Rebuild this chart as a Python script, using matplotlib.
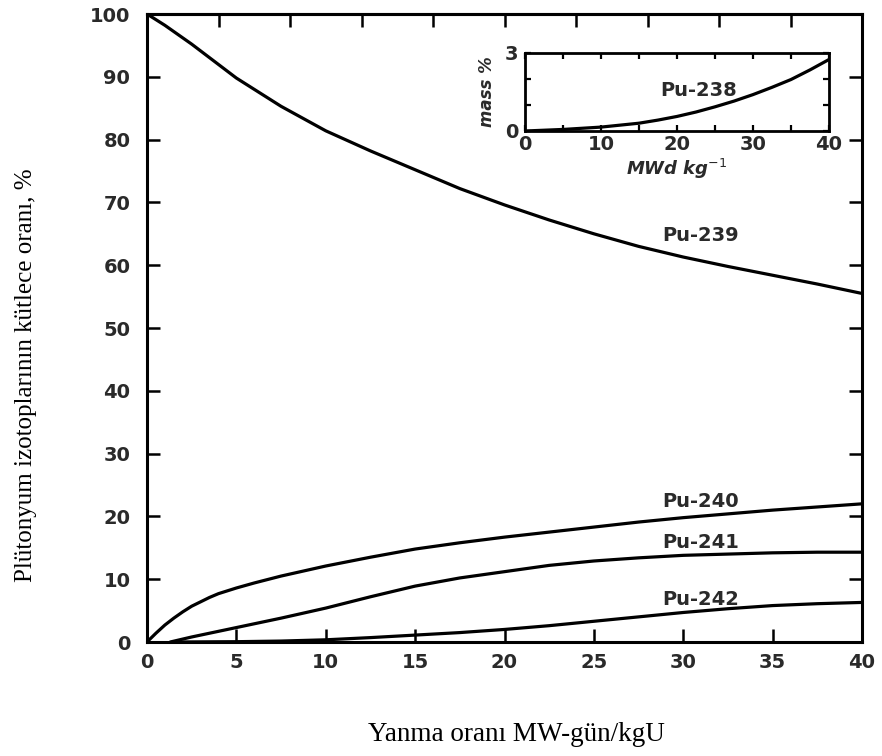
import numpy as np
import matplotlib
matplotlib.use("Agg")
import matplotlib.pyplot as plt

# ---- data ----
x239 = [0, 1, 2.5, 5, 7.5, 10, 12.5, 15, 17.5, 20, 22.5, 25, 27.5, 30, 32.5, 35, 37.5, 40]
pu239 = [100, 98.2, 95.2, 89.8, 85.3, 81.4, 78.2, 75.2, 72.2, 69.6, 67.2, 65.0, 63.0,
         61.3, 59.8, 58.4, 57.0, 55.5]

x240 = [0, 0.5, 1, 1.5, 2, 2.5, 3, 3.5, 4, 5, 6, 7.5, 10, 12.5, 15, 17.5, 20, 22.5, 25,
        27.5, 30, 32.5, 35, 37.5, 40]
pu240 = [0, 1.4, 2.7, 3.8, 4.8, 5.7, 6.4, 7.1, 7.7, 8.6, 9.4, 10.5, 12.1, 13.5, 14.8,
         15.8, 16.7, 17.5, 18.3, 19.1, 19.8, 20.4, 21.0, 21.5, 22.0]

x241 = [1.3, 2.5, 5, 7.5, 10, 12.5, 15, 17.5, 20, 22.5, 25, 27.5, 30, 32.5, 35, 37.5, 40]
pu241 = [0, 0.8, 2.3, 3.8, 5.4, 7.2, 8.9, 10.2, 11.2, 12.2, 12.9, 13.4, 13.8, 14.0,
         14.2, 14.3, 14.3]

x242 = [1.5, 5, 7.5, 10, 12.5, 15, 17.5, 20, 22.5, 25, 27.5, 30, 32.5, 35, 37.5, 40]
pu242 = [0, 0.05, 0.15, 0.35, 0.7, 1.1, 1.5, 2.0, 2.6, 3.3, 4.0, 4.7, 5.3, 5.8, 6.1, 6.3]

x238 = [0, 5, 10, 15, 17.5, 20, 22.5, 25, 27.5, 30, 32.5, 35, 37.5, 40]
pu238 = [0, 0.06, 0.15, 0.3, 0.42, 0.56, 0.73, 0.93, 1.15, 1.4, 1.68, 1.98, 2.35, 2.75]

xticks = [0, 5, 10, 15, 20, 25, 30, 35, 40]
yticks = [0, 10, 20, 30, 40, 50, 60, 70, 80, 90, 100]
inset_xticks = [0, 10, 20, 30, 40]
inset_yticks = [0, 3]

labels = [("Pu-239", 28.8, 64.8), ("Pu-240", 28.8, 22.3),
          ("Pu-241", 28.8, 15.8), ("Pu-242", 28.8, 6.7)]

TXT = "#2a2a2a"
W, H = 882, 756
fig = plt.figure(figsize=(W / 100, H / 100), dpi=100)

ax = fig.add_axes([147 / W, (H - 642) / H, (862 - 147) / W, (642 - 14) / H])
for xs, ys in [(x239, pu239), (x240, pu240), (x241, pu241), (x242, pu242)]:
    ax.plot(xs, ys, color="black", lw=2.3, solid_capstyle="round",
            solid_joinstyle="round")
ax.set_xlim(0, 40)
ax.set_ylim(0, 100)
ax.set_xticks(xticks)
ax.set_yticks(yticks)
ax.set_xticklabels([str(v) for v in xticks])
ax.set_yticklabels([str(v) for v in yticks])
ax.tick_params(direction="in", length=9.5, width=1.8, right=True,
               labelsize=14, labelcolor=TXT)
ax.tick_params(axis="y", pad=12)
ax.tick_params(axis="x", pad=8)
for lab in ax.get_xticklabels() + ax.get_yticklabels():
    lab.set_fontweight("bold")
for s in ax.spines.values():
    s.set_linewidth(2.2)

sec = ax.secondary_xaxis("top")
sec.set_xticks(np.arange(0, 41, 4))
sec.tick_params(direction="in", length=9.5, width=1.8, labeltop=False)
sec.spines["top"].set_linewidth(2.2)

for t, xx, yy in labels:
    ax.text(xx, yy, t, fontsize=14, color=TXT, fontweight="bold",
            ha="left", va="center")

ax.set_xlabel("Yanma oranı MW-gün/kgU", family="Liberation Serif",
              fontsize=19.5, color="black")
ax.xaxis.set_label_coords(0.516, -0.128)
ax.set_ylabel("Plütonyum izotoplarının kütlece oranı, %",
              family="Liberation Serif", fontsize=18, color="black")
ax.yaxis.set_label_coords(-0.154, 0.425)

# ---- inset ----
ia = fig.add_axes([525 / W, (H - 131) / H, (829 - 525) / W, (131 - 53) / H])
ia.plot(x238, pu238, color="black", lw=2.3, solid_joinstyle="round")
ia.set_xlim(0, 40)
ia.set_ylim(0, 3)
ia.set_xticks(np.arange(0, 41, 5))
ia.set_xticklabels([str(v) if v in inset_xticks else "" for v in range(0, 41, 5)])
ia.set_yticks([0, 1, 2, 3])
ia.set_yticklabels([str(v) if v in inset_yticks else "" for v in range(4)])
ia.tick_params(direction="in", length=4, width=1.6, top=True, right=True,
               labelsize=14, labelcolor=TXT)
ia.tick_params(axis="x", pad=3)
ia.tick_params(axis="y", pad=5)
for lab in ia.get_xticklabels() + ia.get_yticklabels():
    lab.set_fontweight("bold")
for s in ia.spines.values():
    s.set_linewidth(2.0)
ia.text(17.8, 1.55, "Pu-238", fontsize=14, color=TXT, fontweight="bold",
        ha="left", va="center")
ia.set_xlabel(r"MWd kg$^{-1}$", fontsize=13, style="italic", color=TXT,
              fontweight="bold", labelpad=2)
ia.set_ylabel("mass %", fontsize=12, style="italic", color=TXT,
              fontweight="bold", labelpad=6)

fig.savefig("out.png", dpi=100)
